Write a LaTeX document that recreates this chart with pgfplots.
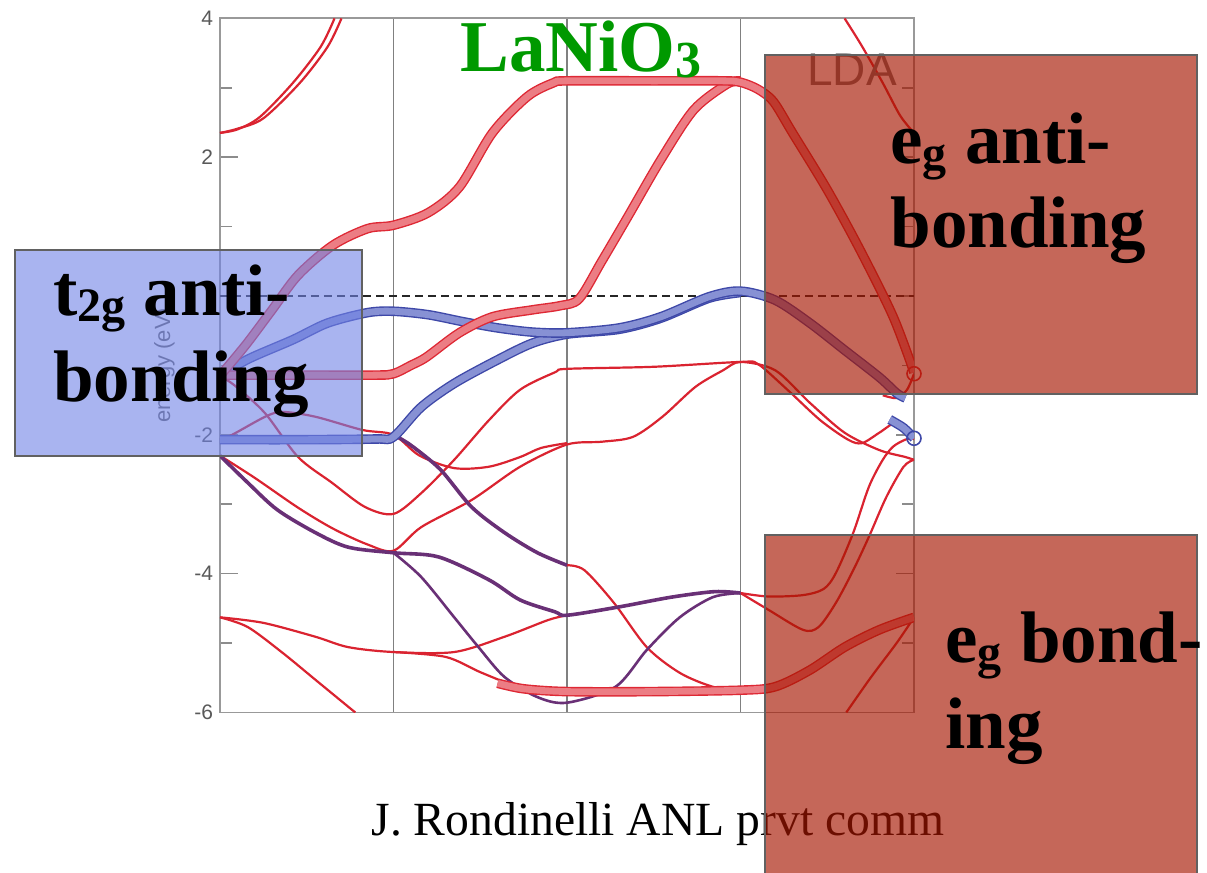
\documentclass[border=0pt]{standalone}
\usepackage{pgfplots}
\pgfplotsset{compat=1.18}
\usepackage{fontspec}
\setmainfont{Liberation Serif}
\setsansfont{Liberation Sans}
\definecolor{bandred}{RGB}{218,35,48}
\definecolor{fatred}{RGB}{222,40,52}
\definecolor{fatredfill}{RGB}{236,125,132}
\definecolor{fatblue}{RGB}{62,72,168}
\definecolor{fatbluefill}{RGB}{135,145,212}
\definecolor{purp}{RGB}{105,48,118}
\definecolor{titlegreen}{RGB}{0,153,0}
\definecolor{boxblue}{RGB}{112,130,230}
\definecolor{boxred}{RGB}{166,22,0}
\newcommand\sub[2][24]{\raisebox{-3pt}{\fontsize{#1}{#1}\selectfont #2}}
\pgfplotsset{
  tr/.style={color=bandred, line width=1.1pt, smooth, no markers},
  pp/.style={color=purp, line width=1.8pt, smooth, no markers},
  fr/.style={draw=fatred, line width=0.7pt, double=fatredfill, double distance=3.4pt, smooth, no markers},
  fb/.style={draw=fatblue, line width=0.7pt, double=fatbluefill, double distance=3.4pt, smooth, no markers},
}
\begin{document}
\begin{tikzpicture}
\begin{axis}[
  scale only axis, width=347pt, height=347pt,
  xmin=0, xmax=4, ymin=-6, ymax=4,
  axis line style={draw=black!40, line width=0.9pt},
  xtick={1,2,3}, xticklabels={}, xmajorgrids,
  grid style={black!50, line width=0.8pt},
  xtick style={draw=none},
  ytick={-6,-4,-2,0,2,4}, yticklabels={-6,-4,-2,{},2,4},
  minor ytick={-5,-3,-1,1,3},
  ytick style={black!45, line width=0.8pt},
  major tick length=9pt, minor tick length=6pt,
  tick align=inside,
  yticklabel style={font=\fontsize{10.5}{12}\selectfont\sffamily, text=black!65},
  ylabel={energy (eV)},
  every axis y label/.style={at={(axis description cs:-0.08,0.5)}, rotate=90, anchor=center, font=\fontsize{11}{12}\selectfont\sffamily, text=black!60},
]
% Fermi level
\addplot[black!85, line width=0.7pt, dash pattern=on 4pt off 2.5pt] coordinates {(0,0) (4,0)};
% thin red bands
\addplot[tr] coordinates {(0,2.35) (0.1,2.4) (0.23,2.58) (0.42,3.07) (0.58,3.59) (0.66,4.0)};
\addplot[tr] coordinates {(0,2.35) (0.1,2.41) (0.25,2.56) (0.46,3.07) (0.62,3.59) (0.7,4.0)};
\addplot[tr] coordinates {(3.6,4.0) (3.7,3.6) (3.82,3.07) (3.92,2.6) (4,2.35)};
\addplot[tr] coordinates {(0,-1.15) (0.09,-1.3) (0.26,-1.69) (0.45,-2.32) (0.645,-2.69) (0.836,-3.04) (1,-3.14) (1.16,-2.84) (1.35,-2.36) (1.55,-1.79) (1.73,-1.35) (1.93,-1.1) (2,-1.05) (2.5,-1.02) (3,-0.95) (3.1,-0.98) (3.27,-1.35) (3.46,-1.79) (3.62,-2.07) (3.7,-2.12) (3.8,-1.97) (3.9,-1.81) (3.95,-1.9) (4,-2.07)};
\addplot[tr] coordinates {(0,-2.07) (0.07,-2.0) (0.26,-1.74) (0.36,-1.67) (0.55,-1.74) (0.82,-1.93) (1,-2.0) (1.15,-2.3) (1.35,-2.48) (1.55,-2.46) (1.73,-2.32) (1.85,-2.19) (2,-2.12)};
\addplot[tr] coordinates {(0,-2.3) (0.2,-2.62) (0.45,-3.05) (0.65,-3.35) (0.85,-3.58) (1,-3.67) (1.16,-3.33) (1.45,-2.94) (1.73,-2.46) (2,-2.14) (2.2,-2.1) (2.38,-2.03) (2.55,-1.74) (2.74,-1.31) (2.9,-1.07) (3,-0.95) (3.2,-1.07) (3.4,-1.54) (3.6,-1.97) (3.8,-2.22) (3.95,-2.32) (4,-2.36)};
\addplot[tr] coordinates {(2,-3.88) (2.1,-3.95) (2.27,-4.42) (2.46,-5.06) (2.65,-5.43) (2.84,-5.63) (3,-5.68)};
\addplot[tr] coordinates {(3,-4.28) (3.16,-4.52) (3.36,-4.81) (3.45,-4.77) (3.55,-4.42) (3.65,-3.95) (3.74,-3.47) (3.84,-2.9) (3.94,-2.46) (4,-2.36)};
\addplot[tr] coordinates {(0,-4.63) (0.25,-4.71) (0.55,-4.91) (0.74,-5.06) (1,-5.13) (1.35,-5.13) (1.64,-4.91) (1.89,-4.67) (2,-4.6)};
\addplot[tr] coordinates {(0,-4.63) (0.16,-4.77) (0.36,-5.14) (0.55,-5.53) (0.74,-5.92) (0.78,-6.0)};
\addplot[tr] coordinates {(1,-5.13) (1.3,-5.2) (1.5,-5.42) (1.7,-5.62) (1.8,-5.67)};
\addplot[tr] coordinates {(3.61,-6.0) (3.75,-5.5) (3.9,-5.0) (4,-4.63)};
\addplot[tr] coordinates {(3.82,-1.43) (3.9,-1.47) (3.96,-1.35) (4,-1.12)};
% purple bands
\addplot[pp] coordinates {(0,-2.3) (0.16,-2.69) (0.33,-3.08) (0.55,-3.41) (0.74,-3.62) (1,-3.7) (1.26,-3.76) (1.55,-4.09) (1.73,-4.38) (1.93,-4.55) (2,-4.6) (2.3,-4.48) (2.6,-4.34) (2.85,-4.26) (3,-4.28)};
\addplot[tr] coordinates {(3,-4.28) (3.16,-4.33) (3.36,-4.31) (3.48,-4.22) (3.55,-3.99) (3.65,-3.41) (3.74,-2.75) (3.82,-2.36) (3.88,-2.17) (3.95,-2.07) (4,-2.05)};
\addplot[pp] coordinates {(1,-2.0) (1.1,-2.15) (1.27,-2.5) (1.45,-3.04) (1.64,-3.41) (1.83,-3.7) (2,-3.88)};
\addplot[pp, line width=1.3pt] coordinates {(1,-3.7) (1.16,-4.05) (1.35,-4.63) (1.49,-5.06) (1.64,-5.49) (1.83,-5.78) (2,-5.86) (2.28,-5.63) (2.46,-5.1) (2.65,-4.63) (2.84,-4.34) (3,-4.28)};
% fat bands
\addplot[fr] coordinates {(1.6,-5.58) (1.75,-5.66) (2,-5.7) (2.5,-5.7) (3,-5.68) (3.2,-5.63) (3.4,-5.39) (3.6,-5.06) (3.8,-4.81) (4,-4.63)};
\addplot[fb] coordinates {(0,-2.07) (0.5,-2.07) (0.9,-2.06) (1,-2.03) (1.16,-1.6) (1.35,-1.26) (1.6,-0.92) (1.8,-0.68) (2,-0.55) (2.3,-0.48) (2.54,-0.32) (2.82,-0.03) (3,0.05)};
\addplot[fb] coordinates {(0,-1.14) (0.17,-0.9) (0.42,-0.63) (0.62,-0.39) (0.85,-0.24) (1,-0.22) (1.2,-0.27) (1.4,-0.37) (1.6,-0.46) (1.8,-0.52) (2,-0.53) (2.3,-0.46) (2.54,-0.3) (2.82,-0.01) (3,0.07) (3.2,-0.06) (3.4,-0.39) (3.6,-0.78) (3.8,-1.17) (3.9,-1.4) (3.95,-1.47)};
\addplot[fb] coordinates {(3.86,-1.78) (3.94,-1.9) (4,-2.05)};
\addplot[fr] coordinates {(0,-1.14) (0.5,-1.14) (0.9,-1.14) (1,-1.12) (1.1,-1.0) (1.19,-0.88) (1.38,-0.53) (1.57,-0.3) (1.8,-0.2) (1.96,-0.14) (2.07,-0.04) (2.2,0.5) (2.35,1.14) (2.54,1.96) (2.73,2.68) (2.92,3.05) (3,3.1)};
\addplot[fr] coordinates {(0,-1.15) (0.15,-0.7) (0.3,-0.2) (0.45,0.3) (0.65,0.73) (0.85,0.97) (1,1.02) (1.2,1.2) (1.38,1.57) (1.57,2.35) (1.77,2.87) (1.92,3.07) (2,3.1) (2.5,3.1) (2.9,3.1) (3,3.08) (3.1,2.98) (3.19,2.8) (3.3,2.35) (3.5,1.53) (3.69,0.66) (3.88,-0.3) (4,-1.1)};
\addplot[only marks, mark=o, mark size=3.5pt, fatblue, line width=0.8pt] coordinates {(4,-2.05)};
\addplot[only marks, mark=o, mark size=3.5pt, fatred, line width=0.8pt] coordinates {(4,-1.12)};
% anchor coordinates
\coordinate (BL) at (axis cs:-1.2680,-8.2997);
\coordinate (TR) at (axis cs:5.6888,4.2651);
\coordinate (Bb1) at (axis cs:-1.1816,0.6628);
\coordinate (Bb2) at (axis cs:0.8184,-2.3055);
\coordinate (Ra1) at (axis cs:3.1412,3.4726);
\coordinate (Ra2) at (axis cs:5.6311,-1.4121);
\coordinate (Rb1) at (axis cs:3.1412,-3.4438);
\coordinate (Rb2) at (axis cs:5.6311,-8.5);
\coordinate (Ttl) at (axis cs:1.383,3.228);
\coordinate (Lda) at (axis cs:3.383,3.026);
\coordinate (Tb1) at (axis cs:-0.9625,-0.274);
\coordinate (Tb2) at (axis cs:-0.9625,-1.527);
\coordinate (Tr1) at (axis cs:3.862,1.916);
\coordinate (Tr2) at (axis cs:3.862,0.692);
\coordinate (Ts1) at (axis cs:4.179,-5.288);
\coordinate (Ts2) at (axis cs:4.179,-6.513);
\coordinate (Cap) at (axis cs:2.524,-7.767);
\end{axis}
% title and LDA
\node[anchor=base west, inner sep=0pt, text=titlegreen, font=\fontsize{36.5}{40}\selectfont\bfseries] at (Ttl) {LaNiO\sub[26]{3}};
\node[anchor=base west, inner sep=0pt, text=black!55, font=\fontsize{23}{26}\selectfont\sffamily] at (Lda) {LDA};
% caption
\node[anchor=base, inner sep=0pt, font=\fontsize{23.8}{26}\selectfont] at (Cap) {J. Rondinelli ANL prvt comm};
% boxes
\fill[boxblue, fill opacity=0.6] (Bb1) rectangle (Bb2);
\draw[black!62, line width=1.2pt] (Bb1) rectangle (Bb2);
\fill[boxred, fill opacity=0.65] (Ra1) rectangle (Ra2);
\draw[black!62, line width=1.2pt] (Ra1) rectangle (Ra2);
\fill[boxred, fill opacity=0.65] (Rb1) rectangle (Rb2);
\draw[black!62, line width=1.2pt] (Rb1) rectangle (Rb2);
% box texts
\begin{scope}[every node/.style={anchor=base west, inner sep=0pt, font=\fontsize{36.5}{40}\selectfont\bfseries}]
\node at (Tb1) {t\sub{2g} anti-};
\node at (Tb2) {bonding};
\node at (Tr1) {e\sub{g} anti-};
\node at (Tr2) {bonding};
\node at (Ts1) {e\sub{g} bond-};
\node at (Ts2) {ing};
\end{scope}
\pgfresetboundingbox
\path[use as bounding box] (BL) rectangle (TR);
\end{tikzpicture}
\end{document}
